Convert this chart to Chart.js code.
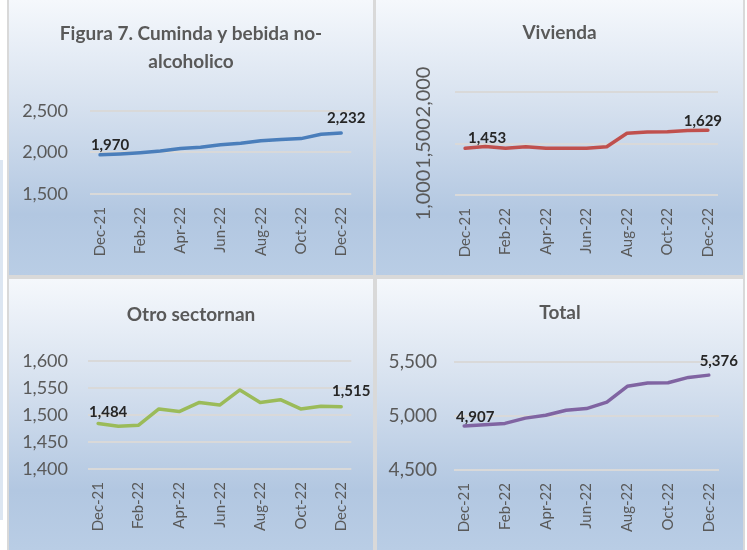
<!DOCTYPE html>
<html>
<head>
<meta charset="utf-8">
<script src="https://cdn.jsdelivr.net/npm/chart.js@4.4.1/dist/chart.umd.min.js"></script>
<style>
    body { margin: 0; width: 747px; height: 550px; background: #fff; position: relative; overflow: hidden; font-family: Lato, sans-serif; }
    .marco { position: absolute; left: 7px; top: 0; width: 738px; height: 550px; background: #d9d9d9; }
    .tira { position: absolute; left: 0; top: 160px; width: 3px; height: 360px; background: #dce6f2; }
    .panel { position: absolute; background: linear-gradient(to bottom, #f5f8fc 0%, #d9e3f0 35%, #b2c7e1 78%, #b9cde5 100%); }
    .panel canvas { display: block; }
</style>
</head>
<body>
<div class="tira"></div>
<div class="marco"></div>
<div class="panel" style="left:9px;top:0;width:364px;height:275px"><canvas id="cuminda"></canvas></div>
<div class="panel" style="left:376px;top:0;width:367px;height:275px"><canvas id="vivienda"></canvas></div>
<div class="panel" style="left:9px;top:279px;width:364px;height:271px"><canvas id="otro"></canvas></div>
<div class="panel" style="left:377px;top:279px;width:366px;height:271px"><canvas id="total"></canvas></div>

<script>
// Datos (meses Dec-21 a Dec-22)
const meses = ['Dec-21', 'Jan-22', 'Feb-22', 'Mar-22', 'Apr-22', 'May-22', 'Jun-22',
    'Jul-22', 'Aug-22', 'Sep-22', 'Oct-22', 'Nov-22', 'Dec-22'];
const cumindaValores = [1970, 1981, 1996, 2015, 2045, 2060, 2090, 2109, 2139, 2154, 2165, 2217, 2232];
const viviendaValores = [1453, 1470, 1453, 1468, 1455, 1455, 1455, 1468, 1600, 1612, 1615, 1627, 1629];
const otroValores = [1484, 1479, 1481, 1511, 1506, 1523, 1518, 1546, 1523, 1528, 1511, 1516, 1515];
const totalValores = [4907, 4918, 4930, 4979, 5006, 5052, 5067, 5127, 5273, 5303, 5306, 5355, 5376];

const grisTexto = '#595959';

// Etiquetas de datos solo en el primer y último punto
const etiquetasExtremos = {
    id: 'etiquetasExtremos',
    afterDatasetsDraw(chart, args, opts) {
        const ctx = chart.ctx;
        const meta = chart.getDatasetMeta(0);
        const valores = chart.data.datasets[0].data;
        const ultimo = valores.length - 1;
        ctx.save();
        ctx.font = 'bold 15px Lato';
        ctx.fillStyle = '#262626';
        ctx.textAlign = 'center';
        ctx.textBaseline = 'middle';
        [0, ultimo].forEach((i, k) => {
            const p = meta.data[i];
            const [dx, dy] = opts.desplazamientos[k];
            ctx.fillText(valores[i].toLocaleString('en-US'), p.x + dx, p.y + dy);
        });
        ctx.restore();
    }
};

function crearGrafico(id, titulo, valores, color, eje, caja) {
    const ctx = document.getElementById(id).getContext('2d');
    return new Chart(ctx, {
        type: 'line',
        data: {
            labels: meses,
            datasets: [{
                data: valores,
                borderColor: color,
                borderWidth: 3.5,
                pointRadius: 0,
                tension: 0,
                borderCapStyle: 'round',
                borderJoinStyle: 'round'
            }]
        },
        options: {
            responsive: true,
            maintainAspectRatio: false,
            animation: false,
            layout: { padding: 0 },
            plugins: {
                legend: { display: false },
                tooltip: { enabled: false },
                title: {
                    display: true,
                    text: titulo,
                    color: grisTexto,
                    font: { family: 'Lato', size: 19, weight: 'bold', lineHeight: 28 / 19 },
                    padding: { top: caja.tituloArriba, bottom: caja.tituloAbajo }
                },
                etiquetasExtremos: { desplazamientos: caja.etiquetas }
            },
            scales: {
                x: {
                    offset: true,
                    grid: { display: false, drawTicks: false },
                    border: { display: false },
                    ticks: {
                        autoSkip: false,
                        minRotation: 90,
                        maxRotation: 90,
                        padding: 13,
                        color: grisTexto,
                        font: { family: 'Lato', size: 15 },
                        callback: (v, i) => (i % 2 === 0 ? meses[i] : '')
                    },
                    afterFit: s => { s.height = caja.altoX; }
                },
                y: {
                    min: eje.min,
                    max: eje.max,
                    grid: { color: '#d9d9d9', lineWidth: 2, drawTicks: false },
                    border: { display: false },
                    ticks: Object.assign({
                        stepSize: eje.paso,
                        autoSkip: false,
                        padding: eje.relleno,
                        color: grisTexto,
                        font: { family: 'Lato', size: eje.fuente }
                    }, eje.extra || {}),
                    afterFit: s => { s.width = caja.anchoY; }
                },
                // eje vacío a la derecha, solo para dejar margen sin descentrar el título
                margen: {
                    type: 'linear',
                    position: 'right',
                    grid: { display: false, drawTicks: false },
                    border: { display: false },
                    ticks: { display: false },
                    afterFit: s => { s.width = caja.derecha; }
                }
            }
        },
        plugins: [etiquetasExtremos]
    });
}

crearGrafico('cuminda', ['Figura 7. Cuminda y bebida no-', 'alcoholico'], cumindaValores, '#4a7ebb',
    { min: 1500, max: 2500, paso: 500, relleno: 22, fuente: 18 },
    { derecha: 21, tituloArriba: 20, tituloAbajo: 34.7, altoX: 81, anchoY: 81,
      etiquetas: [[10, -10], [5, -15]] });

crearGrafico('vivienda', 'Vivienda', viviendaValores, '#c0504d',
    { min: 1000, max: 2000, paso: 500, relleno: 6, fuente: 20,
      extra: { minRotation: 90, maxRotation: 90, crossAlign: 'center' } },
    { derecha: 25, tituloArriba: 19, tituloAbajo: 45, altoX: 80, anchoY: 79,
      etiquetas: [[22, -10], [-5, -9]] });

crearGrafico('otro', 'Otro sectornan', otroValores, '#9bbb59',
    { min: 1400, max: 1600, paso: 50, relleno: 20, fuente: 18 },
    { derecha: 21, tituloArriba: 22, tituloAbajo: 31.7, altoX: 81, anchoY: 79,
      etiquetas: [[10, -11], [10, -16]] });

crearGrafico('total', 'Total', totalValores, '#8064a2',
    { min: 4500, max: 5500, paso: 500, relleno: 17, fuente: 19 },
    { derecha: 24, tituloArriba: 20, tituloAbajo: 34.7, altoX: 80, anchoY: 77,
      etiquetas: [[11, -9], [10, -14]] });
</script>
</body>
</html>
